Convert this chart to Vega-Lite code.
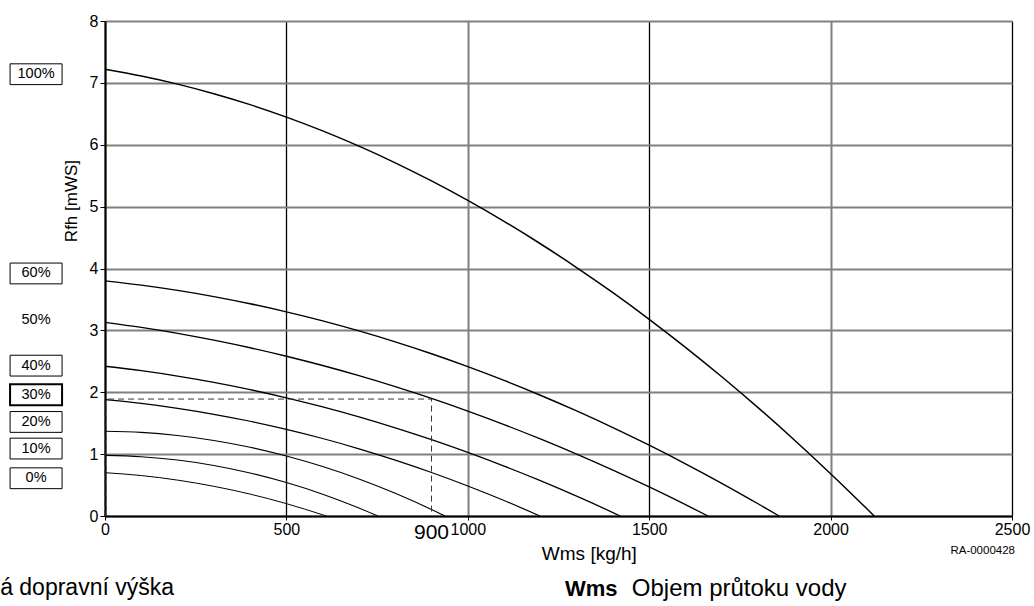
{
  "$schema": "https://vega.github.io/schema/vega-lite/v6.json",
  "width": 907,
  "height": 495,
  "autosize": "none",
  "padding": {"left": 105, "top": 21, "right": 22, "bottom": 90},
  "background": "white",
  "config": {"view": {"stroke": null}, "font": "Liberation Sans"},
  "datasets": {
    "curves": [
      {"curve": "100%", "wms": 0, "rfh": 7.22}, {"curve": "100%", "wms": 100, "rfh": 7.111}, {"curve": "100%", "wms": 200, "rfh": 6.98}, {"curve": "100%", "wms": 300, "rfh": 6.825}, {"curve": "100%", "wms": 400, "rfh": 6.648}, {"curve": "100%", "wms": 500, "rfh": 6.447}, {"curve": "100%", "wms": 600, "rfh": 6.224}, {"curve": "100%", "wms": 700, "rfh": 5.977}, {"curve": "100%", "wms": 800, "rfh": 5.708}, {"curve": "100%", "wms": 900, "rfh": 5.415}, {"curve": "100%", "wms": 1000, "rfh": 5.1}, {"curve": "100%", "wms": 1100, "rfh": 4.762}, {"curve": "100%", "wms": 1200, "rfh": 4.4}, {"curve": "100%", "wms": 1300, "rfh": 4.016}, {"curve": "100%", "wms": 1400, "rfh": 3.609}, {"curve": "100%", "wms": 1500, "rfh": 3.179}, {"curve": "100%", "wms": 1600, "rfh": 2.726}, {"curve": "100%", "wms": 1700, "rfh": 2.25}, {"curve": "100%", "wms": 1800, "rfh": 1.751}, {"curve": "100%", "wms": 1900, "rfh": 1.229}, {"curve": "100%", "wms": 2000, "rfh": 0.684}, {"curve": "100%", "wms": 2100, "rfh": 0.116}, {"curve": "100%", "wms": 2120, "rfh": 0},
      {"curve": "60%", "wms": 0, "rfh": 3.8}, {"curve": "60%", "wms": 100, "rfh": 3.731}, {"curve": "60%", "wms": 200, "rfh": 3.646}, {"curve": "60%", "wms": 300, "rfh": 3.546}, {"curve": "60%", "wms": 400, "rfh": 3.43}, {"curve": "60%", "wms": 500, "rfh": 3.299}, {"curve": "60%", "wms": 600, "rfh": 3.153}, {"curve": "60%", "wms": 700, "rfh": 2.991}, {"curve": "60%", "wms": 800, "rfh": 2.814}, {"curve": "60%", "wms": 900, "rfh": 2.622}, {"curve": "60%", "wms": 1000, "rfh": 2.414}, {"curve": "60%", "wms": 1100, "rfh": 2.191}, {"curve": "60%", "wms": 1200, "rfh": 1.952}, {"curve": "60%", "wms": 1300, "rfh": 1.698}, {"curve": "60%", "wms": 1400, "rfh": 1.429}, {"curve": "60%", "wms": 1500, "rfh": 1.144}, {"curve": "60%", "wms": 1600, "rfh": 0.844}, {"curve": "60%", "wms": 1700, "rfh": 0.529}, {"curve": "60%", "wms": 1800, "rfh": 0.198}, {"curve": "60%", "wms": 1858, "rfh": 0},
      {"curve": "50%", "wms": 0, "rfh": 3.13}, {"curve": "50%", "wms": 100, "rfh": 3.048}, {"curve": "50%", "wms": 200, "rfh": 2.952}, {"curve": "50%", "wms": 300, "rfh": 2.842}, {"curve": "50%", "wms": 400, "rfh": 2.719}, {"curve": "50%", "wms": 500, "rfh": 2.582}, {"curve": "50%", "wms": 600, "rfh": 2.432}, {"curve": "50%", "wms": 700, "rfh": 2.268}, {"curve": "50%", "wms": 800, "rfh": 2.091}, {"curve": "50%", "wms": 900, "rfh": 1.9}, {"curve": "50%", "wms": 1000, "rfh": 1.695}, {"curve": "50%", "wms": 1100, "rfh": 1.477}, {"curve": "50%", "wms": 1200, "rfh": 1.245}, {"curve": "50%", "wms": 1300, "rfh": 1.0}, {"curve": "50%", "wms": 1400, "rfh": 0.741}, {"curve": "50%", "wms": 1500, "rfh": 0.469}, {"curve": "50%", "wms": 1600, "rfh": 0.183}, {"curve": "50%", "wms": 1662, "rfh": 0},
      {"curve": "40%", "wms": 0, "rfh": 2.42}, {"curve": "40%", "wms": 100, "rfh": 2.348}, {"curve": "40%", "wms": 200, "rfh": 2.261}, {"curve": "40%", "wms": 300, "rfh": 2.159}, {"curve": "40%", "wms": 400, "rfh": 2.042}, {"curve": "40%", "wms": 500, "rfh": 1.91}, {"curve": "40%", "wms": 600, "rfh": 1.763}, {"curve": "40%", "wms": 700, "rfh": 1.602}, {"curve": "40%", "wms": 800, "rfh": 1.425}, {"curve": "40%", "wms": 900, "rfh": 1.234}, {"curve": "40%", "wms": 1000, "rfh": 1.028}, {"curve": "40%", "wms": 1100, "rfh": 0.807}, {"curve": "40%", "wms": 1200, "rfh": 0.571}, {"curve": "40%", "wms": 1300, "rfh": 0.32}, {"curve": "40%", "wms": 1400, "rfh": 0.055}, {"curve": "40%", "wms": 1420, "rfh": 0},
      {"curve": "30%", "wms": 0, "rfh": 1.88}, {"curve": "30%", "wms": 100, "rfh": 1.819}, {"curve": "30%", "wms": 200, "rfh": 1.74}, {"curve": "30%", "wms": 300, "rfh": 1.644}, {"curve": "30%", "wms": 400, "rfh": 1.531}, {"curve": "30%", "wms": 500, "rfh": 1.4}, {"curve": "30%", "wms": 600, "rfh": 1.252}, {"curve": "30%", "wms": 700, "rfh": 1.086}, {"curve": "30%", "wms": 800, "rfh": 0.903}, {"curve": "30%", "wms": 900, "rfh": 0.703}, {"curve": "30%", "wms": 1000, "rfh": 0.485}, {"curve": "30%", "wms": 1100, "rfh": 0.25}, {"curve": "30%", "wms": 1199, "rfh": 0},
      {"curve": "20%", "wms": 0, "rfh": 1.37}, {"curve": "20%", "wms": 100, "rfh": 1.351}, {"curve": "20%", "wms": 200, "rfh": 1.301}, {"curve": "20%", "wms": 300, "rfh": 1.221}, {"curve": "20%", "wms": 400, "rfh": 1.111}, {"curve": "20%", "wms": 500, "rfh": 0.97}, {"curve": "20%", "wms": 600, "rfh": 0.799}, {"curve": "20%", "wms": 700, "rfh": 0.598}, {"curve": "20%", "wms": 800, "rfh": 0.367}, {"curve": "20%", "wms": 900, "rfh": 0.105}, {"curve": "20%", "wms": 937, "rfh": 0},
      {"curve": "10%", "wms": 0, "rfh": 0.98}, {"curve": "10%", "wms": 100, "rfh": 0.959}, {"curve": "10%", "wms": 200, "rfh": 0.905}, {"curve": "10%", "wms": 300, "rfh": 0.817}, {"curve": "10%", "wms": 400, "rfh": 0.695}, {"curve": "10%", "wms": 500, "rfh": 0.54}, {"curve": "10%", "wms": 600, "rfh": 0.352}, {"curve": "10%", "wms": 700, "rfh": 0.129}, {"curve": "10%", "wms": 752, "rfh": 0},
      {"curve": "0%", "wms": 0, "rfh": 0.7}, {"curve": "0%", "wms": 100, "rfh": 0.654}, {"curve": "0%", "wms": 200, "rfh": 0.58}, {"curve": "0%", "wms": 300, "rfh": 0.48}, {"curve": "0%", "wms": 400, "rfh": 0.354}, {"curve": "0%", "wms": 500, "rfh": 0.2}, {"curve": "0%", "wms": 600, "rfh": 0.019}, {"curve": "0%", "wms": 610, "rfh": 0}
    ],
    "labels": [
      {"label": "100%", "rfh": 7.14},
      {"label": "60%", "rfh": 3.92},
      {"label": "50%", "rfh": 3.16},
      {"label": "40%", "rfh": 2.43},
      {"label": "30%", "rfh": 1.96},
      {"label": "20%", "rfh": 1.52},
      {"label": "10%", "rfh": 1.09},
      {"label": "0%", "rfh": 0.61}
    ],
    "guide": [
      {"step": 1, "wms": 0, "rfh": 0},
      {"step": 2, "wms": 0, "rfh": 1.89},
      {"step": 3, "wms": 900, "rfh": 1.89},
      {"step": 4, "wms": 900, "rfh": 0}
    ]
  },
  "layer": [
    {
      "data": {"name": "curves"},
      "mark": {"type": "line", "color": "black", "interpolate": "monotone"},
      "encoding": {
        "x": {
          "field": "wms", "type": "quantitative",
          "scale": {"domain": [0, 2500], "nice": false, "zero": false},
          "axis": {
            "title": null, "values": [0, 500, 1000, 1500, 2000, 2500], "format": "d",
            "labelFontSize": 16, "labelColor": "black", "labelFlush": false, "labelOverlap": false,
            "labelPadding": 1, "tickSize": 4, "tickColor": "black", "tickWidth": 1,
            "domainColor": "black", "domainWidth": 2,
            "grid": true,
            "gridColor": {"condition": {"test": "datum.value % 1000 === 0", "value": "#808080"}, "value": "#000000"},
            "gridWidth": {"condition": {"test": "datum.value % 1000 === 0", "value": 2}, "value": 1.3},
            "gridOpacity": 1
          }
        },
        "y": {
          "field": "rfh", "type": "quantitative",
          "scale": {"domain": [0, 8], "nice": false},
          "axis": {
            "title": null, "values": [0, 1, 2, 3, 4, 5, 6, 7, 8], "format": "d",
            "labelFontSize": 16, "labelColor": "black", "labelFlush": false, "labelOverlap": false,
            "labelPadding": 2, "tickSize": 5, "tickColor": "black", "tickWidth": 1,
            "domainColor": "black", "domainWidth": 2,
            "grid": true, "gridColor": "#808080", "gridWidth": 2, "gridOpacity": 1
          }
        },
        "detail": {"field": "curve", "type": "nominal"},
        "strokeWidth": {
          "field": "curve", "type": "ordinal",
          "scale": {"domain": ["100%", "60%", "50%", "40%", "30%", "20%", "10%", "0%"], "range": [1.5, 1, 1.8, 1.2, 1.8, 1.3, 1.6, 1.4]},
          "legend": null
        }
      }
    },
    {
      "data": {"name": "guide"},
      "mark": {"type": "line", "color": "#333333", "strokeWidth": 1, "strokeDash": [6, 4]},
      "encoding": {
        "x": {"field": "wms", "type": "quantitative"},
        "y": {"field": "rfh", "type": "quantitative"},
        "order": {"field": "step", "type": "quantitative"}
      }
    },
    {
      "data": {"name": "labels"},
      "transform": [{"filter": "datum.label !== '50%'"}],
      "mark": {"type": "point", "shape": "M-1,-0.4L1,-0.4L1,0.4L-1,0.4Z", "filled": false, "size": 2704, "color": "black", "opacity": 1},
      "encoding": {
        "x": {"datum": -190, "type": "quantitative"},
        "y": {"field": "rfh", "type": "quantitative"},
        "strokeWidth": {"condition": {"test": "datum.label === '30%'", "value": 2}, "value": 1}
      }
    },
    {
      "data": {"name": "labels"},
      "mark": {"type": "text", "fontSize": 14.5, "color": "black", "align": "center", "baseline": "middle"},
      "encoding": {
        "x": {"datum": -190, "type": "quantitative"},
        "y": {"field": "rfh", "type": "quantitative"},
        "text": {"field": "label"},
        "fontWeight": {"condition": {"test": "datum.label === '30%' || datum.label === '50%'", "value": "bold"}, "value": "normal"}
      }
    },
    {
      "data": {"values": [{"t": "Rfh [mWS]"}]},
      "mark": {"type": "text", "fontSize": 17, "color": "black", "angle": 270, "align": "center", "baseline": "middle"},
      "encoding": {"x": {"datum": -90, "type": "quantitative"}, "y": {"datum": 5.09, "type": "quantitative"}, "text": {"field": "t"}}
    },
    {
      "data": {"values": [{"t": "Wms [kg/h]"}]},
      "mark": {"type": "text", "fontSize": 19, "color": "black", "align": "center", "baseline": "middle"},
      "encoding": {"x": {"datum": 1335, "type": "quantitative"}, "y": {"datum": -0.61, "type": "quantitative"}, "text": {"field": "t"}}
    },
    {
      "data": {"values": [{"t": "RA-0000428"}]},
      "mark": {"type": "text", "fontSize": 11.5, "color": "black", "align": "right", "baseline": "middle", "dx": 3},
      "encoding": {"x": {"datum": 2500, "type": "quantitative"}, "y": {"datum": -0.57, "type": "quantitative"}, "text": {"field": "t"}}
    },
    {
      "data": {"values": [{"t": "900"}]},
      "mark": {"type": "text", "fontSize": 21, "color": "black", "align": "center", "baseline": "middle"},
      "encoding": {"x": {"datum": 900, "type": "quantitative"}, "y": {"datum": -0.27, "type": "quantitative"}, "text": {"field": "t"}}
    },
    {
      "data": {"values": [{"t": "á dopravní výška"}]},
      "mark": {"type": "text", "fontSize": 23, "color": "black", "align": "left", "baseline": "alphabetic"},
      "encoding": {"x": {"datum": -289, "type": "quantitative"}, "y": {"datum": -1.28, "type": "quantitative"}, "text": {"field": "t"}}
    },
    {
      "data": {"values": [{"t": "Wms"}]},
      "mark": {"type": "text", "fontSize": 22, "fontWeight": "bold", "color": "black", "align": "left", "baseline": "alphabetic"},
      "encoding": {"x": {"datum": 1268, "type": "quantitative"}, "y": {"datum": -1.29, "type": "quantitative"}, "text": {"field": "t"}}
    },
    {
      "data": {"values": [{"t": "Objem průtoku vody"}]},
      "mark": {"type": "text", "fontSize": 24, "color": "black", "align": "left", "baseline": "alphabetic"},
      "encoding": {"x": {"datum": 1452, "type": "quantitative"}, "y": {"datum": -1.29, "type": "quantitative"}, "text": {"field": "t"}}
    }
  ]
}
